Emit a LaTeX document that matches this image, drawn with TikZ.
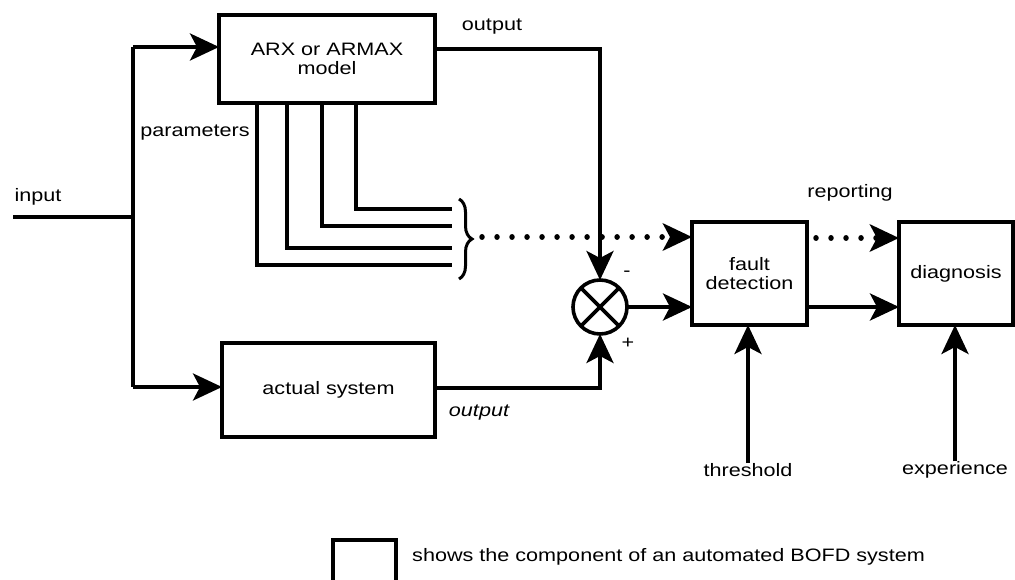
\documentclass[tikz,border=0pt]{standalone}
\usepackage{fontspec}
\setmainfont[FakeStretch=1.2]{Liberation Sans}
\usetikzlibrary{arrows.meta,decorations.pathreplacing}
\begin{document}
\begin{tikzpicture}[x=1pt,y=-1pt,
  every node/.style={font=\fontsize{18}{21}\selectfont},
  blk/.style={draw,line width=4pt,rectangle,inner sep=0pt,outer sep=0pt,align=center},
  wire/.style={line width=3.6pt},
  arr/.style={line width=3.6pt,-{Stealth[length=29pt,width=27pt,inset=7pt]}},
  dotarr/.style={line width=5.5pt,line cap=round,dash pattern=on 0.01pt off 15pt,-{Stealth[length=29pt,width=27pt,inset=7pt,line cap=butt]}},
  lbl/.style={inner sep=0pt}
]
\useasboundingbox (0,0) rectangle (1015,580);
% blocks
\node[blk,minimum width=216pt,minimum height=88pt] (arx) at (327,59) {ARX or ARMAX\\[-2pt]model};
\node[blk,minimum width=213pt,minimum height=94pt] (act) at (328.5,390) {actual system};
\node[draw,circle,line width=3.6pt,minimum size=54pt,inner sep=0pt,outer sep=0pt] (sum) at (600,307) {};
\draw[line width=3.6pt] (sum.north west) -- (sum.south east) (sum.north east) -- (sum.south west);
\node[blk,minimum width=115pt,minimum height=103pt] (fd) at (749.5,273.5) {fault\\[-2pt]detection};
\node[blk,minimum width=114pt,minimum height=103pt] (dg) at (956,273.5) {diagnosis};
\node[blk,minimum width=63pt,minimum height=42pt] (leg) at (364.5,561) {};
% labels
\node[lbl] (tin) at (38,197) {input};
\node[lbl] (tpar) at (195,133) {parameters};
\node[lbl] (tout1) at (492,27) {output};
\node[lbl] (tout2) at (479,413) {\itshape output};
\node[lbl] (tminus) at (627,274) {-};
\node[lbl] (tplus) at (628,343) {+};
\node[lbl] (trep) at (850,193) {reporting};
\node[lbl] (tth) at (748,470) {threshold};
\node[lbl] (tex) at (955,470) {experience};
\node[lbl,anchor=west] (tleg) at (412,557) {shows the component of an automated BOFD system};
% input
\coordinate (in) at (13,217);
\coordinate (ja) at (133,47);
\coordinate (jb) at (133,387);
\draw[wire] (in) -- (in -| ja);
\draw[wire] (ja) -- (jb);
\draw[arr] (ja) -- (ja -| arx.west);
\draw[arr] (jb) -- (jb -| act.west);
% outputs to sum
\coordinate (ao) at (435,49);
\coordinate (bo) at (435,388);
\draw[arr] (ao) -| (sum.north);
\draw[arr] (bo) -| (sum.south);
\draw[arr] (sum.east) -- (sum.east -| fd.west);
% parameters
\coordinate (p1) at (257,103); \coordinate (q1) at (452,265);
\coordinate (p2) at (287,103); \coordinate (q2) at (452,248);
\coordinate (p3) at (322,103); \coordinate (q3) at (452,226);
\coordinate (p4) at (356,103); \coordinate (q4) at (452,209);
\draw[wire] (p1) |- (q1);
\draw[wire] (p2) |- (q2);
\draw[wire] (p3) |- (q3);
\draw[wire] (p4) |- (q4);
\coordinate (bt) at (459,199);
\coordinate (bb) at (459,279);
\draw[line width=3pt,decorate,decoration={brace,amplitude=13pt}] (bt) -- (bb);
\coordinate (br) at (482,237);
\draw[dotarr] (br) -- (br -| fd.west);
% fault detection to diagnosis
\coordinate (f1) at (807,238);
\coordinate (f2) at (807,307);
\draw[dotarr] ([xshift=9pt]f1) -- (f1 -| dg.west);
\draw[arr] (f2) -- (f2 -| dg.west);
% threshold, experience
\draw[arr] (tth.north) -- (tth.north |- fd.south);
\draw[arr] (tex.north) -- (tex.north |- dg.south);
\end{tikzpicture}
\end{document}
